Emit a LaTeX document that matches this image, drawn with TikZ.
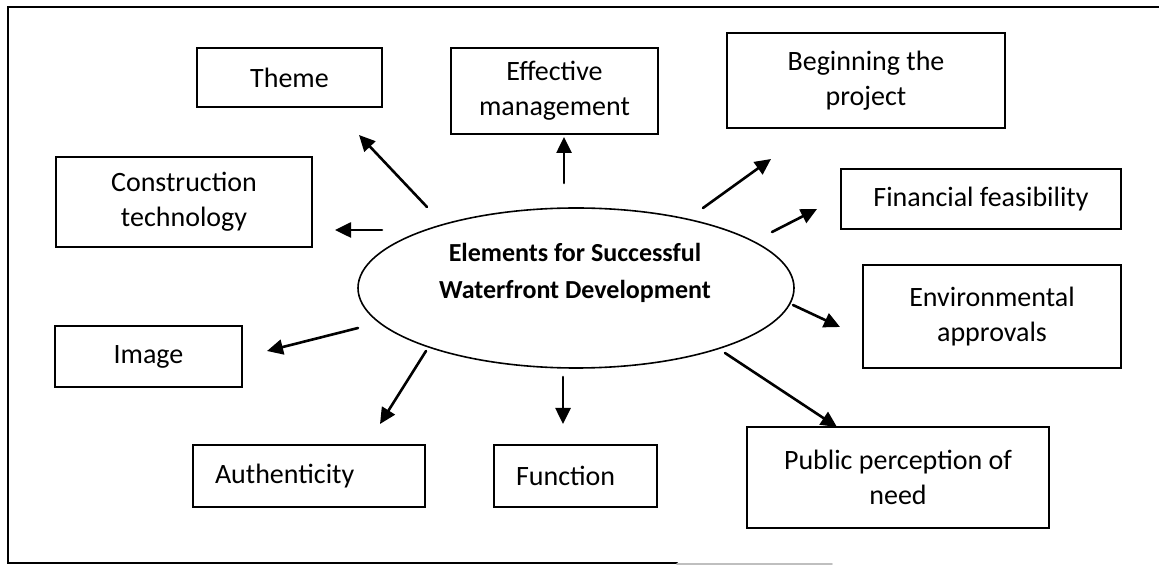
\documentclass[tikz,border=0pt]{standalone}
\usepackage{fontspec}
\setmainfont{Carlito}
\usetikzlibrary{arrows.meta,shapes.geometric}

\begin{document}
\begin{tikzpicture}[x=0.5pt,y=-0.5pt,line cap=round]
% Styles
\tikzset{element/.style={draw,line width=1pt,align=center,inner sep=0pt,
    font=\fontsize{14}{17.5}\selectfont}}
\tikzset{leftelement/.style={element,align=left,inner xsep=11pt}}
\tikzset{hub/.style={draw,ellipse,line width=0.8pt,inner sep=0pt}}
\tikzset{arrowline/.style={line width=1.3pt,-{Triangle[length=8pt,width=7.5pt]}}}
\useasboundingbox (0,0) rectangle (1159,565);
% the frame
\draw[line width=1pt] (1159,7) -- (8,7) -- (8,563) -- (677,563);
\draw[line width=0.8pt,black!25] (677,564) -- (832,564);
% the centre
\node[hub,minimum width=218pt,minimum height=80pt] (core) at (576,288) {};
\node[font=\bfseries\fontsize{13}{18.5}\selectfont,align=center] (coretext) at (575,273)
  {Elements for Successful\\Waterfront Development};
% the boxes
\node[element,minimum width=92.5pt,minimum height=29.5pt] (theme) at (289.5,77.5) {Theme};
\node[element,minimum width=103.5pt,minimum height=43pt] (management) at (554.5,91)
  {Effective\\management};
\node[element,minimum width=139pt,minimum height=47.5pt] (beginning) at (866,80.5)
  {Beginning the\\project};
\node[element,minimum width=128pt,minimum height=45pt] (construction) at (184,202)
  {Construction\\technology};
\node[element,minimum width=140pt,minimum height=30pt] (financial) at (981,199)
  {Financial feasibility};
\node[element,minimum width=129pt,minimum height=51.5pt] (environmental) at (992,316.5)
  {Environmental\\approvals};
\node[element,minimum width=93.5pt,minimum height=30.5pt] (image) at (148.5,356.5) {Image};
\node[leftelement,text width=94pt,minimum height=31pt] (authenticity) at (309,476)
  {Authenticity};
\node[leftelement,text width=59.5pt,minimum height=31pt] (function) at (575.5,476)
  {Function};
\node[element,minimum width=151pt,minimum height=50.5pt] (public) at (898,477.5)
  {Public perception of\\need};
% the arrows
\foreach \name/\xa/\ya/\xb/\yb in {theme/427/207/359/135, management/564/183/564/137,
  beginning/703/208/771/159, financial/772/232/817/209,
  environmental/793/305/840/327, public/725/353/837/427,
  function/563/377/563/424, authenticity/426/351/380/424,
  image/358/328/267/351, construction/382/230/335/230} {
  \coordinate (\name-from) at (\xa,\ya);
  \coordinate (\name-to) at (\xb,\yb);
  \draw[arrowline] (\name-from) -- (\name-to);
}
\end{tikzpicture}
\end{document}
